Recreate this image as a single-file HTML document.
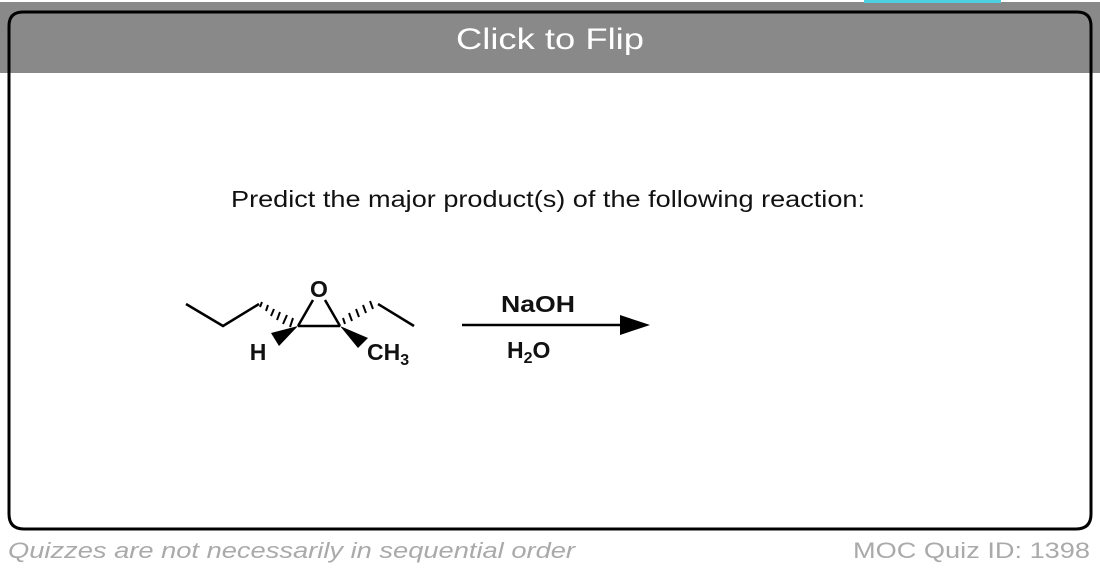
<!DOCTYPE html>
<html><head><style>
html,body{margin:0;padding:0;width:1100px;height:571px;overflow:hidden;background:#fff}
</style></head><body>
<svg width="1100" height="571" xmlns="http://www.w3.org/2000/svg" font-family="Liberation Sans, Arial, sans-serif">
<rect x="0" y="2" width="1100" height="71" fill="#898989"/>
<rect x="864" y="0" width="137" height="3" fill="#4fd0e0"/>
<path d="M9 73 V26 Q9 12 23 12 H1077 Q1091 12 1091 26 V73" fill="#898989" stroke="#000" stroke-width="3"/>
<rect x="9" y="73" width="1082" height="456" fill="#fff"/>
<path d="M9 73 V514 Q9 529 24 529 H1076 Q1091 529 1091 514 V73" fill="none" stroke="#000" stroke-width="3"/>
<text x="550" y="49" font-size="30" fill="#fff" text-anchor="middle" textLength="188" lengthAdjust="spacingAndGlyphs">Click to Flip</text>
<text x="231" y="207" font-size="23" fill="#111" textLength="634" lengthAdjust="spacingAndGlyphs">Predict the major product(s) of the following reaction:</text>
<g stroke="#000" stroke-width="2.5" fill="none">
<polyline points="186,304 223,326 259,304"/>
<polyline points="298,326 340,326"/>
<line x1="298" y1="326" x2="313" y2="300"/>
<line x1="340" y1="326" x2="325" y2="300"/>
<line x1="378" y1="304" x2="414" y2="326"/>
<line x1="462" y1="325" x2="630" y2="325"/>
</g>
<g stroke="#000" stroke-width="2">
<line x1="262" y1="302" x2="260" y2="307"/>
<line x1="268" y1="305" x2="266" y2="311"/>
<line x1="274" y1="309" x2="271" y2="316"/>
<line x1="280" y1="312" x2="277" y2="320"/>
<line x1="287" y1="315" x2="283" y2="324"/>
<line x1="293" y1="318" x2="290" y2="327"/>
<line x1="345" y1="324" x2="343" y2="318"/>
<line x1="352" y1="321" x2="349" y2="313"/>
<line x1="359" y1="317" x2="356" y2="309"/>
<line x1="366" y1="313" x2="363" y2="305"/>
<line x1="373" y1="309" x2="370" y2="301"/>
</g>
<polygon points="298,326 271,333 279,346" fill="#000"/>
<polygon points="340,326 358,348 368,338" fill="#000"/>
<polygon points="650,325 620,315 620,335" fill="#000"/>
<g font-size="23" font-weight="bold" fill="#111">
<text x="319" y="297" text-anchor="middle">O</text>
<text x="258" y="360" text-anchor="middle">H</text>
<text x="367" y="360">CH<tspan font-size="16" dy="5">3</tspan></text>
<text x="538" y="312" text-anchor="middle" textLength="74" lengthAdjust="spacingAndGlyphs">NaOH</text>
<text x="507" y="358">H<tspan font-size="16" dy="5">2</tspan><tspan dy="-5">O</tspan></text>
</g>
<text x="8" y="558" font-size="22" font-style="italic" fill="#aaa" textLength="567" lengthAdjust="spacingAndGlyphs">Quizzes are not necessarily in sequential order</text>
<text x="1090" y="558" font-size="22" fill="#aaa" text-anchor="end" textLength="237" lengthAdjust="spacingAndGlyphs">MOC Quiz ID: 1398</text>
</svg>
</body></html>
